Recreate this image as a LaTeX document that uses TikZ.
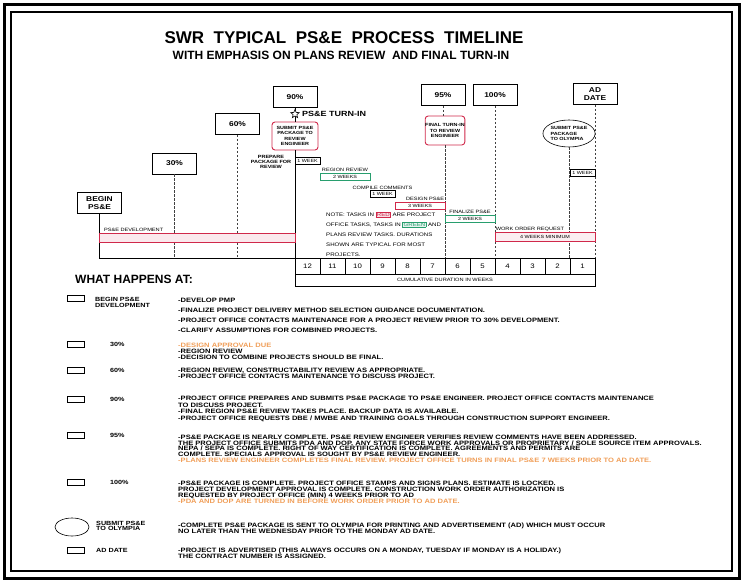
\documentclass[tikz,border=0pt]{standalone}
\usepackage{fontspec}
\setmainfont{Liberation Sans}
\newfontfamily\cadfont[FakeStretch=1.2]{Liberation Sans}
\usetikzlibrary{positioning,shapes.geometric}

\definecolor{taskred}{RGB}{208,40,74}
\definecolor{taskgreen}{RGB}{40,158,110}
\definecolor{noteorange}{RGB}{240,158,88}

\newcommand{\cadfs}[2]{\cadfont\fontsize{#1}{#2}\selectfont\lineskiplimit=-5pt\relax}
\newcommand{\redtag}[1]{{\setlength{\fboxsep}{0.6pt}\setlength{\fboxrule}{0.5pt}\fcolorbox{taskred}{taskred!15}{\textcolor{taskred}{#1}}}}
\newcommand{\greentag}[1]{{\setlength{\fboxsep}{0.6pt}\setlength{\fboxrule}{0.5pt}\fcolorbox{taskgreen}{taskgreen!12}{\textcolor{taskgreen}{#1}}}}

\tikzset{
  milestone/.style={draw, line width=0.8pt, fill=white, minimum width=44, minimum height=21,
    inner sep=0pt, align=center, font={\cadfs{7}{8}\bfseries}},
  reviewbox/.style={draw=taskred, line width=0.9pt, rounded corners=3pt, fill=white,
    inner sep=0pt, align=center, font={\cadfs{4.5}{5.3}\bfseries}},
  taskbox/.style={draw, line width=0.5pt, minimum height=7, inner sep=0pt, font={\cadfs{4.5}{5}}},
  tasklabel/.style={inner sep=0.8pt, font={\cadfs{4.7}{5}}},
  dropline/.style={line width=0.5pt, black!75, dash pattern=on 2.5pt off 1.5pt},
  icon/.style={draw, line width=0.6pt, minimum width=17, minimum height=6, inner sep=0pt},
  rowlabel/.style={anchor=north west, inner sep=0pt, align=left, font={\cadfs{6}{5.6}\bfseries}},
  rowtext/.style={anchor=north west, inner sep=0pt, align=left, font={\cadfs{6.3}{6}\bfseries}},
}

\begin{document}
\begin{tikzpicture}[x=1pt,y=-1pt]
  \useasboundingbox (0,0) rectangle (743,583);

  % Frame
  \draw[line width=3pt] (4,5) rectangle (739,578);
  \draw[line width=1.3pt] (11,12) rectangle (732,571);

  % Title
  \node[font=\bfseries\fontsize{17}{17}\selectfont] (title) at (344,38) {SWR\ \ TYPICAL\ \ PS\&E\ \ PROCESS\ \ TIMELINE};
  \node[font=\bfseries\fontsize{12}{12}\selectfont] (subtitle) at (341,55) {WITH EMPHASIS ON PLANS REVIEW\ \ AND FINAL TURN-IN};

  % Milestone boxes
  \node[milestone] (begin) at (99.5,203) {BEGIN\\PS\&E};
  \node[milestone] (m30) at (174.5,163.5) {30\%};
  \node[milestone] (m60) at (237.5,124) {60\%};
  \node[milestone] (m90) at (295,97) {90\%};
  \node[milestone] (m95) at (443,95) {95\%};
  \node[milestone] (m100) at (495,95) {100\%};
  \node[milestone] (ad) at (595,94) {AD\\DATE};

  % Turn-in boxes
  \node[reviewbox, minimum width=46, minimum height=28] (turn90) at (295,136) {SUBMIT PS\&E\\PACKAGE TO\\REVIEW\\ENGINEER};
  \node[reviewbox, minimum width=38, minimum height=29] (turn95) at (445,130.5) {FINAL TURN-IN\\TO REVIEW\\ENGINEER};
  \node[ellipse, draw, line width=0.6pt, fill=white, minimum width=48, minimum height=27, inner sep=0pt,
    align=left, font={\cadfs{4.5}{5.4}\bfseries}] (olympia) at (569,133.5) {SUBMIT PS\&E\\PACKAGE\\TO OLYMPIA};
  \draw[line width=0.6pt] (m90.south) -- (turn90.north);
  \node[star, star points=5, star point ratio=2.3, draw, line width=0.6pt, fill=white, minimum size=9, inner sep=0pt] (turnstar) at (295,114) {};
  \node[anchor=west, inner sep=0pt, font={\cadfs{7.5}{8}\bfseries}] (turnlbl) at (302,113.5) {PS\&E TURN-IN};
  \node[inner sep=0pt, align=center, font={\cadfs{4.6}{5}\bfseries}] (prep) at (271,162) {PREPARE\\PACKAGE FOR\\REVIEW};

  % Drop lines to the duration grid
  \coordinate (basel) at (99,258);
  \draw[line width=0.5pt] (begin.south) -- (begin.south |- basel);
  \draw[dropline] (m30.south) -- (m30.south |- basel);
  \draw[dropline] (m60.south) -- (m60.south |- basel);
  \draw[line width=0.6pt] (turn90.south) -- (turn90.south |- basel);
  \draw[dropline] (m95.south) -- (m95.south |- turn95.north);
  \draw[dropline] (turn95.south) -- (turn95.south |- basel);
  \draw[dropline] (m100.south) -- (m100.south |- basel);
  \draw[dropline] (olympia.south) -- (olympia.south |- basel);
  \draw[dropline] (ad.south) -- (ad.south |- basel);

  % Task durations
  \node[taskbox, minimum width=25] (wk90) at (307.5,161) {1 WEEK};
  \node[taskbox, draw=taskgreen, minimum width=50] (regrev) at (345,176.5) {2 WEEKS};
  \node[tasklabel, above=0pt of regrev] (regrevlbl) {REGION REVIEW};
  \node[taskbox, minimum width=25] (compile) at (382.5,194) {1 WEEK};
  \node[tasklabel, above=0pt of compile] (compilelbl) {COMPILE COMMENTS};
  \node[taskbox, draw=taskred, minimum width=50] (design) at (420,205.5) {3 WEEKS};
  \node[tasklabel, anchor=south east] (designlbl) at (design.north east) {DESIGN PS\&E};
  \node[taskbox, draw=taskgreen, minimum width=50] (finalize) at (470,218.5) {2 WEEKS};
  \node[tasklabel, above=0pt of finalize] (finalizelbl) {FINALIZE PS\&E};
  \node[taskbox, draw=taskred, fill=taskred!8, minimum width=100, minimum height=9] (workorder) at (545,237) {4 WEEKS MINIMUM};
  \node[tasklabel, anchor=south west] (workorderlbl) at (workorder.north west) {WORK ORDER REQUEST};
  \node[taskbox, minimum width=25] (wkad) at (582.5,173) {1 WEEK};

  % PS&E development band
  \node[draw=taskred, fill=taskred!10, line width=0.6pt, minimum width=196, minimum height=9, inner sep=0pt, anchor=north west] (devbar) at (99,232.5) {};
  \node[tasklabel, anchor=south west] (devlbl) at ([xshift=4pt]devbar.north west) {PS\&E DEVELOPMENT};

  % Note
  \node[anchor=north west, inner sep=0pt, align=left, font={\cadfs{5.1}{10}}] (note) at (326,211.5)
    {NOTE: TASKS IN \redtag{RED} ARE PROJECT\\OFFICE TASKS, TASKS IN \greentag{GREEN} AND\\PLANS REVIEW TASKS. DURATIONS\\SHOWN ARE TYPICAL FOR MOST\\PROJECTS.};

  % Cumulative duration grid
  \draw[line width=0.5pt] (basel) -- (295,258);
  \draw[line width=0.6pt] (295,258) rectangle (595,286);
  \draw[line width=0.5pt] (295,274) -- (595,274);
  \foreach \k in {1,...,11}
    \draw[line width=0.5pt] ({295+25*\k},258) -- ({295+25*\k},274);
  \foreach \n [count=\k from 0] in {12,11,...,1}
    \node[font={\cadfs{6.5}{7}}] (num\n) at ({307.5+25*\k},266) {\n};
  \node[font={\cadfs{4.7}{5}}] (cumlbl) at (445,280) {CUMULATIVE DURATION IN WEEKS};

  % What happens at
  \node[anchor=west, inner sep=0pt, font=\bfseries\fontsize{12}{12}\selectfont] (whathead) at (75,279) {WHAT HAPPENS AT:};

  \node[icon] (ic1) at (75.5,298) {};
  \node[rowlabel] (lb1) at (95,297.5) {BEGIN PS\&E\\DEVELOPMENT};
  \node[rowtext, font={\cadfs{6.3}{10}\bfseries}] (tx1) at (178,297.7) {-DEVELOP PMP\\
    -FINALIZE PROJECT DELIVERY METHOD SELECTION GUIDANCE DOCUMENTATION.\\
    -PROJECT OFFICE CONTACTS MAINTENANCE FOR A PROJECT REVIEW PRIOR TO 30\% DEVELOPMENT.\\
    -CLARIFY ASSUMPTIONS FOR COMBINED PROJECTS.};

  \node[icon] (ic2) at (75.5,344.5) {};
  \node[rowlabel] (lb2) at (110,342.5) {30\%};
  \node[rowtext] (tx2) at (178,342.7) {\textcolor{noteorange}{-DESIGN APPROVAL DUE}\\
    -REGION REVIEW\\
    -DECISION TO COMBINE PROJECTS SHOULD BE FINAL.};

  \node[icon] (ic3) at (75.5,370.5) {};
  \node[rowlabel] (lb3) at (110,368.5) {60\%};
  \node[rowtext] (tx3) at (178,367.7) {-REGION REVIEW, CONSTRUCTABILITY REVIEW AS APPROPRIATE.\\
    -PROJECT OFFICE CONTACTS MAINTENANCE TO DISCUSS PROJECT.};

  \node[icon] (ic4) at (75.5,399.5) {};
  \node[rowlabel] (lb4) at (110,397.5) {90\%};
  \node[rowtext, font={\cadfs{6.3}{6.7}\bfseries}] (tx4) at (178,395.7) {-PROJECT OFFICE PREPARES AND SUBMITS PS\&E PACKAGE TO PS\&E ENGINEER. PROJECT OFFICE CONTACTS MAINTENANCE\\
    TO DISCUSS PROJECT.\\
    -FINAL REGION PS\&E REVIEW TAKES PLACE. BACKUP DATA IS AVAILABLE.\\
    -PROJECT OFFICE REQUESTS DBE / MWBE AND TRAINING GOALS THROUGH CONSTRUCTION SUPPORT ENGINEER.};

  \node[icon] (ic5) at (75.5,435.5) {};
  \node[rowlabel] (lb5) at (110,433.5) {95\%};
  \node[rowtext, font={\cadfs{6.3}{5.7}\bfseries}] (tx5) at (178,434.7) {-PS\&E PACKAGE IS NEARLY COMPLETE. PS\&E REVIEW ENGINEER VERIFIES REVIEW COMMENTS HAVE BEEN ADDRESSED.\\
    THE PROJECT OFFICE SUBMITS PDA AND DOP. ANY STATE FORCE WORK APPROVALS OR PROPRIETARY / SOLE SOURCE ITEM APPROVALS.\\
    NEPA / SEPA IS COMPLETE. RIGHT OF WAY CERTIFICATION IS COMPLETE. AGREEMENTS AND PERMITS ARE\\
    COMPLETE. SPECIALS APPROVAL IS SOUGHT BY PS\&E REVIEW ENGINEER.\\
    \textcolor{noteorange}{-PLANS REVIEW ENGINEER COMPLETES FINAL REVIEW. PROJECT OFFICE TURNS IN FINAL PS\&E 7 WEEKS PRIOR TO AD DATE.}};

  \node[icon] (ic6) at (75.5,482.5) {};
  \node[rowlabel] (lb6) at (110,480.5) {100\%};
  \node[rowtext] (tx6) at (178,480.7) {-PS\&E PACKAGE IS COMPLETE. PROJECT OFFICE STAMPS AND SIGNS PLANS. ESTIMATE IS LOCKED.\\
    PROJECT DEVELOPMENT APPROVAL IS COMPLETE. CONSTRUCTION WORK ORDER AUTHORIZATION IS\\
    REQUESTED BY PROJECT OFFICE (MIN) 4 WEEKS PRIOR TO AD\\
    \textcolor{noteorange}{-PDA AND DOP ARE TURNED IN BEFORE WORK ORDER PRIOR TO AD DATE.}};

  \node[ellipse, draw, line width=0.6pt, minimum width=34, minimum height=18, inner sep=0pt] (ic7) at (72,527) {};
  \node[rowlabel] (lb7) at (96,521) {SUBMIT PS\&E\\TO OLYMPIA};
  \node[rowtext] (tx7) at (178,522.7) {-COMPLETE PS\&E PACKAGE IS SENT TO OLYMPIA FOR PRINTING AND ADVERTISEMENT (AD) WHICH MUST OCCUR\\
    NO LATER THAN THE WEDNESDAY PRIOR TO THE MONDAY AD DATE.};

  \node[icon] (ic8) at (75.5,550.5) {};
  \node[rowlabel] (lb8) at (96,548) {AD DATE};
  \node[rowtext] (tx8) at (178,547.7) {-PROJECT IS ADVERTISED (THIS ALWAYS OCCURS ON A MONDAY, TUESDAY IF MONDAY IS A HOLIDAY.)\\
    THE CONTRACT NUMBER IS ASSIGNED.};
\end{tikzpicture}
\end{document}
